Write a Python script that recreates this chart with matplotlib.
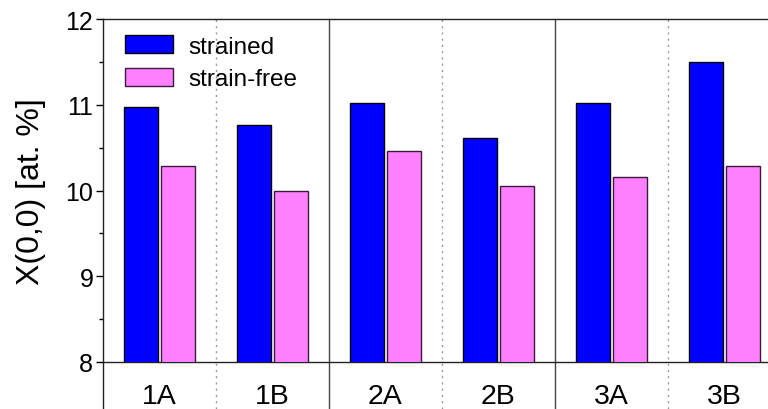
import matplotlib
matplotlib.use("Agg")
import matplotlib.pyplot as plt
import numpy as np

plt.rcParams['font.family'] = ['Liberation Sans', 'DejaVu Sans']

categories = ["1A", "1B", "2A", "2B", "3A", "3B"]
strained = [10.97, 10.76, 11.02, 10.61, 11.02, 11.50]
strain_free = [10.28, 9.99, 10.46, 10.05, 10.16, 10.28]
yticks = [8, 9, 10, 11, 12]

fig = plt.figure(figsize=(7.68, 4.10), dpi=100)
W, H = 768, 410
left, top, bottom = 103, 20, 363
ax = fig.add_axes([left / W, 1 - bottom / H, 1.0 - left / W, (bottom - top) / H])

x = np.arange(len(categories))
w = 0.30
off = 0.165
ax.bar(x - off, strained, w, bottom=0, color="#0000FF", edgecolor="black", linewidth=1, label="strained", zorder=3)
ax.bar(x + off, strain_free, w, bottom=0, color="#FF80FF", edgecolor="#3a1a3a", linewidth=1, label="strain-free", zorder=3)

ax.set_ylim(8, 12)
ax.set_xlim(-0.5, 5.385)
ax.set_yticks(yticks)
ax.set_yticks(np.arange(8.5, 12, 1.0), minor=True)
ax.tick_params(axis='y', which='major', direction='out', length=5, width=1, labelsize=18, pad=2)
ax.tick_params(axis='y', which='minor', direction='out', length=3, width=1)
ax.set_xticks(x)
ax.set_xticklabels(categories)
ax.tick_params(axis='x', which='major', length=0, labelsize=20.5, pad=15)
ax.set_ylabel("X(0,0) [at. %]", fontsize=23, labelpad=14)

ax.spines['right'].set_visible(False)
for s in ['left', 'top', 'bottom']:
    ax.spines[s].set_linewidth(1.0)
    ax.spines[s].set_color('#222222')

# extend left spine to bottom of figure
ext = -(H - bottom) / (bottom - top)
ax.plot([0, 0], [ext, 0], transform=ax.transAxes, color='#222222', lw=1.0, clip_on=False)

# group separators
for xs in [1.5, 3.5]:
    ax.axvline(xs, ymin=ext, ymax=1, color='#444444', lw=1.0, clip_on=False, zorder=2)
for xs in [0.5, 2.5, 4.5]:
    ax.axvline(xs, ymin=ext, ymax=1, color='#999999', lw=1.0, ls=(0, (1.5, 3)), clip_on=False, zorder=2)

leg = ax.legend(loc='upper left', frameon=False, fontsize=17.5, handlelength=1.97, handleheight=0.78,
                borderaxespad=0.0, borderpad=0.0, labelspacing=0.42, handletextpad=0.62,
                bbox_to_anchor=(22 / (W - left), 1 - 16 / (bottom - top)))

fig.savefig("out.png", dpi=100)
